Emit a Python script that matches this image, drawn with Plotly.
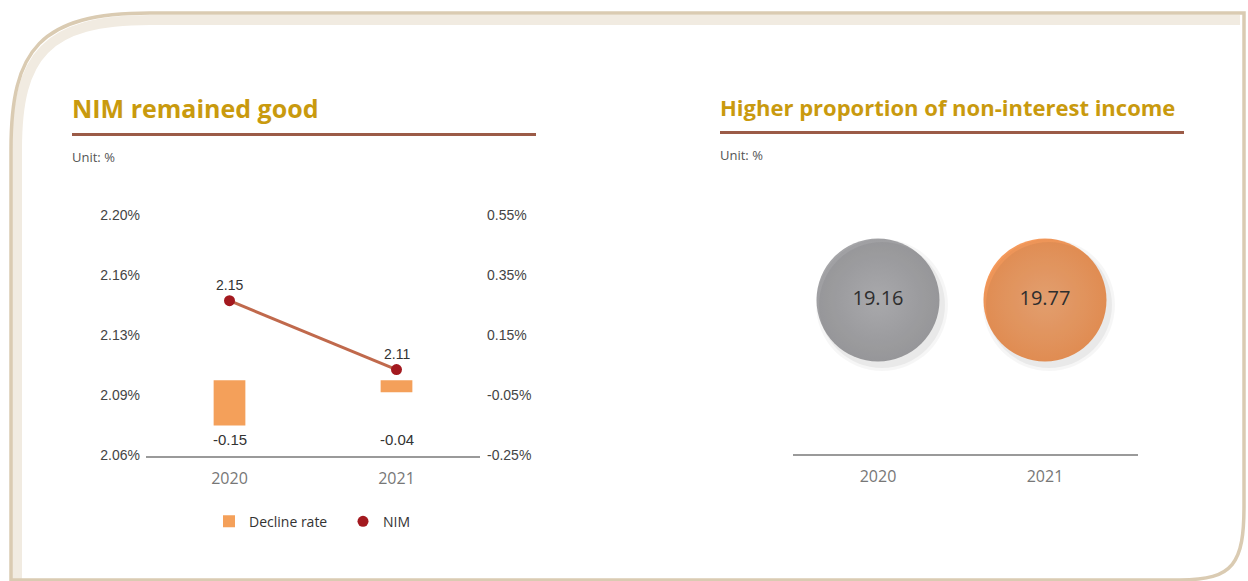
import plotly.graph_objects as go

W, H = 1248, 600
# the photographed page comes out squeezed a little vertically and pushed down,
# so screen y = 0.97 * figure y + 9; positions below are given in screen pixels
Y_SCALE, Y_OFF = 0.97, 9

# data
years = ["2020", "2021"]
nim = [2.15, 2.11]
decline_rate = [-0.15, -0.04]
nim_tickvals = [2.06, 2.095, 2.13, 2.165, 2.20]
nim_ticktext = ["2.06%", "2.09%", "2.13%", "2.16%", "2.20%"]
rate_tickvals = [-0.25, -0.05, 0.15, 0.35, 0.55]
rate_ticktext = ["-0.25%", "-0.05%", "0.15%", "0.35%", "0.55%"]
non_interest_share = [19.16, 19.77]


def fx(x):
    return x / W


def fy(y):
    return 1 - (y - Y_OFF) / Y_SCALE / H


GOLD = "#C99A0E"
RULE = "#9B5B47"
AXIS = "#9a9a9a"

fig = go.Figure()

# ---- left: NIM ----
fig.add_trace(go.Bar(x=years, y=decline_rate, name="Decline rate", width=0.19,
                     marker=dict(color="#F4A05A", line=dict(width=0)),
                     xaxis="x", yaxis="y2", hoverinfo="x+y"))
fig.add_trace(go.Scatter(x=years, y=nim, mode="lines", showlegend=False,
                         line=dict(color="#C0694C", width=3), xaxis="x", yaxis="y"))
fig.add_trace(go.Scatter(x=years, y=nim, mode="markers", name="NIM",
                         marker=dict(color="#A3191F", size=11), xaxis="x", yaxis="y"))

annotations = []
for i, v in enumerate(nim):
    annotations.append(dict(x=i, y=v, xref="x", yref="y", text=f"{v:.2f}", showarrow=False,
                            yshift=16, font=dict(family="Liberation Sans, Arial", size=14, color="#333")))
# decline labels all sit on one line near the bottom of the plot
for i, v in enumerate(decline_rate):
    annotations.append(dict(x=i, y=-0.197, xref="x", yref="y2", text=f"{v:.2f}", showarrow=False,
                            font=dict(family="Liberation Sans, Arial", size=15, color="#333")))

# ---- right: non-interest income bubbles ----
level = 0.643
fig.add_trace(go.Scatter(x=years, y=[level] * len(years), mode="markers", showlegend=False,
                         hoverinfo="skip", marker=dict(color="rgba(0,0,0,0.035)", size=132),
                         xaxis="x4", yaxis="y4"))
fig.add_trace(go.Scatter(x=years, y=[level] * len(years), mode="markers", showlegend=False,
                         hoverinfo="skip", marker=dict(color="rgba(0,0,0,0.05)", size=126),
                         xaxis="x4", yaxis="y4"))
fig.add_trace(go.Scatter(
    x=years, y=[level] * len(years), mode="markers+text", showlegend=False,
    text=[f"{v:.2f}" for v in non_interest_share], textposition="middle center",
    textfont=dict(family="Open Sans", size=20, color="#333"),
    marker=dict(size=123, color=["#A5A5A8", "#F69A5B"],
                gradient=dict(type="radial", color=["#B9B9BC", "#F8AE7A"]),
                line=dict(width=0)),
    xaxis="x3", yaxis="y3"))

# titles, units
for x, y, txt, size in [(72, 109, "NIM remained good", 25),
                        (720, 108, "Higher proportion of non-interest income", 22)]:
    annotations.append(dict(x=fx(x - 2), y=fy(y), xref="paper", yref="paper", xanchor="left", yanchor="middle",
                            text=f"<b>{txt}</b>", showarrow=False,
                            font=dict(family="Open Sans", size=size, color=GOLD)))
for x, y in [(72, 157), (720, 155)]:
    annotations.append(dict(x=fx(x - 2), y=fy(y), xref="paper", yref="paper", xanchor="left", yanchor="middle",
                            text="Unit: %", showarrow=False,
                            font=dict(family="Open Sans", size=13, color="#555")))

shapes = []
# frame: soft inner glow + border
shapes.append(dict(type="path", xref="paper", yref="paper", layer="below",
                   path=(f"M {fx(17)},{fy(579)} L {fx(17)},{fy(150)} "
                         f"C {fx(17)},{fy(56)} {fx(46)},{fy(21)} {fx(150)},{fy(21)} L {fx(1240)},{fy(21)}"),
                   line=dict(color="#F1EBE1", width=10)))
shapes.append(dict(type="path", xref="paper", yref="paper", layer="below",
                   path=(f"M {fx(11)},{fy(150)} C {fx(11)},{fy(50)} {fx(40)},{fy(14)} {fx(150)},{fy(14)} "
                         f"L {fx(1244)},{fy(14)} L {fx(1244)},{fy(505)} "
                         f"C {fx(1244)},{fy(562)} {fx(1234)},{fy(579)} {fx(1180)},{fy(579)} "
                         f"L {fx(11)},{fy(579)} Z"),
                   line=dict(color="#DACBB2", width=3.5)))
# title rules
shapes.append(dict(type="line", xref="paper", yref="paper", x0=fx(72), x1=fx(536), y0=fy(135), y1=fy(135),
                   line=dict(color=RULE, width=3)))
shapes.append(dict(type="line", xref="paper", yref="paper", x0=fx(720), x1=fx(1184), y0=fy(133), y1=fy(133),
                   line=dict(color=RULE, width=3)))

tick_font = dict(family="Liberation Sans, Arial", size=14, color="#444")
cat_font = dict(family="Open Sans", size=16, color="#777")

fig.update_layout(
    width=W, height=H,
    margin=dict(l=0, r=0, t=0, b=0),
    paper_bgcolor="white", plot_bgcolor="rgba(0,0,0,0)",
    showlegend=True,
    legend=dict(orientation="h", x=fx(209), y=fy(521), xanchor="left", yanchor="middle",
                font=dict(family="Open Sans", size=14, color="#333"), bgcolor="rgba(0,0,0,0)",
                itemwidth=30, entrywidth=89),
    xaxis=dict(domain=[fx(146), fx(480)], type="category", range=[-0.5, 1.5], anchor="y",
               showline=True, linecolor=AXIS, linewidth=1.5, showgrid=False, zeroline=False,
               ticks="outside", ticklen=8, tickcolor="rgba(0,0,0,0)", tickfont=cat_font),
    yaxis=dict(domain=[fy(455), fy(215)], range=[2.06, 2.20], anchor="x",
               tickvals=nim_tickvals, ticktext=nim_ticktext, tickfont=tick_font,
               ticklabelstandoff=5,
               showgrid=False, zeroline=False, showline=False),
    yaxis2=dict(overlaying="y", side="right", range=[-0.25, 0.55], anchor="x",
                tickvals=rate_tickvals, ticktext=rate_ticktext, tickfont=tick_font,
                ticklabelstandoff=6,
                showgrid=False, zeroline=False, showline=False),
    xaxis3=dict(domain=[fx(793), fx(1138)], type="category", range=[-0.509, 1.557], anchor="y3",
                showline=True, linecolor=AXIS, linewidth=1.5, showgrid=False, zeroline=False,
                ticks="outside", ticklen=8, tickcolor="rgba(0,0,0,0)", tickfont=cat_font),
    yaxis3=dict(domain=[fy(453), fy(215)], range=[0, 1], anchor="x3", visible=False),
    xaxis4=dict(domain=[fx(797), fx(1142)], type="category", range=[-0.509, 1.557], anchor="y4",
                visible=False),
    yaxis4=dict(domain=[fy(458), fy(220)], range=[0, 1], anchor="x4", visible=False),
    annotations=annotations,
    shapes=shapes,
)

post = ("document.body.style.margin = '0';"
        "document.body.style.overflow = 'hidden';"
        "document.documentElement.style.overflow = 'hidden';")
fig.write_html("out.html", config={"displayModeBar": False}, post_script=post)
